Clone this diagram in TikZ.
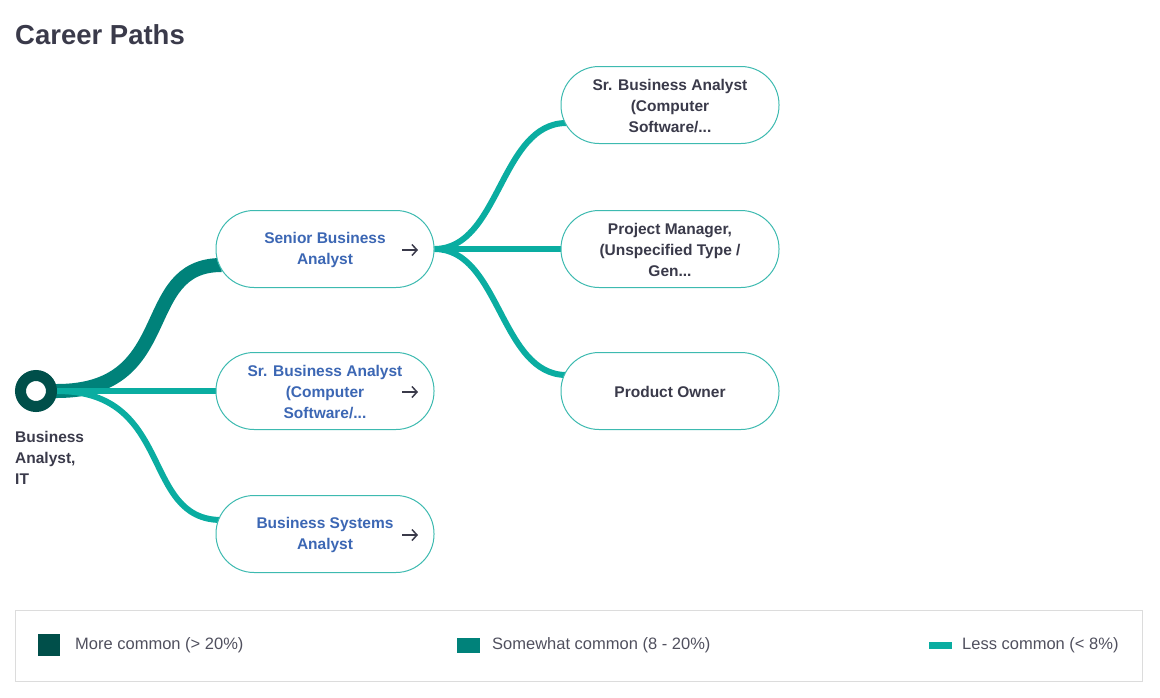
\documentclass[tikz,border=0pt]{standalone}
\usepackage{fontspec}
\setmainfont{Liberation Sans}
\usetikzlibrary{backgrounds,calc,arrows.meta}
\definecolor{morec}{HTML}{004F4A}
\definecolor{somec}{HTML}{00827A}
\definecolor{lessc}{HTML}{0AADA1}
\definecolor{boxc}{HTML}{3DBAB0}
\definecolor{bluet}{HTML}{3C67B4}
\definecolor{darkt}{HTML}{3A3A4A}
\definecolor{legt}{HTML}{50505E}
\definecolor{legb}{HTML}{DCDCDC}
\tikzset{
  pill/.style={draw=boxc, line width=1pt, fill=white, rounded corners=38pt,
    minimum width=218pt, minimum height=77pt, inner sep=0pt},
  linktext/.style={text=bluet, font=\fontsize{15.5}{21}\selectfont\bfseries, align=center},
  plaintext/.style={text=darkt, font=\fontsize{15.5}{21}\selectfont\bfseries, align=center},
  goicon/.style={draw=darkt, line width=1.5pt, -{Straight Barb[length=5pt,width=11pt,line width=1.5pt]}},
  lessline/.style={draw=lessc, line width=6pt},
  someline/.style={draw=somec, line width=14pt},
  legtext/.style={text=legt, font=\fontsize{16.5}{19}\selectfont, anchor=west, inner sep=0pt},
}
\begin{document}
\begin{tikzpicture}[x=1pt,y=-1pt]
\useasboundingbox (0,0) rectangle (1160,697);
% title
\node[anchor=west, inner sep=0pt, text=darkt, font=\fontsize{27.5}{32}\selectfont\bfseries] (title) at (15,35) {Career Paths};
% start
\node[circle, draw=morec, line width=11pt, fill=white, minimum size=31pt, inner sep=0pt] (start) at (36,391) {};
\node[anchor=north west, inner sep=0pt, align=left, text=darkt, font=\fontsize{15.5}{21}\selectfont\bfseries] (startlbl) at (15,431) {Business\\Analyst,\\IT};
% level 1
\node[pill] (sba) at (325,249) {};
\node[linktext] (sbat) at (325,250) {Senior Business\\Analyst};
\coordinate (sbaa) at (410,250);
\node[pill] (srba) at (325,391) {};
\node[linktext] (srbat) at (325,392) {Sr. Business Analyst\\(Computer\\Software/...};
\coordinate (srbaa) at (410,392);
\node[pill] (bsys) at (325,534) {};
\node[linktext] (bsyst) at (325,535) {Business Systems\\Analyst};
\coordinate (bsysa) at (410,535);
\foreach \a in {sbaa,srbaa,bsysa}
  \draw[goicon] ([xshift=-8pt]\a) -- ([xshift=8pt]\a);
% level 2
\node[pill] (t1) at (670,105) {};
\node[plaintext] (t1t) at (670,106) {Sr. Business Analyst\\(Computer\\Software/...};
\node[pill] (t2) at (670,249) {};
\node[plaintext] (t2t) at (670,250) {Project Manager,\\(Unspecified Type /\\Gen...};
\node[pill] (t3) at (670,391) {};
\node[plaintext] (t3t) at (670,392) {Product Owner};
% connectors
\begin{scope}[on background layer]
\draw[someline] (start.center) -- (start.east) .. controls (180,391) and (135,265) .. ([xshift=6pt,yshift=-16pt]sba.west);
\draw[lessline] (start.center) -- (srba.west);
\draw[lessline] (start.center) -- (start.east) .. controls (175,391) and (140,520) .. ([xshift=6pt,yshift=14pt]bsys.west);
\draw[lessline] (sba.east) .. controls (500,249) and (500,123) .. ([xshift=6pt,yshift=-18pt]t1.west);
\draw[lessline] (sba.east) -- (t2.west);
\draw[lessline] (sba.east) .. controls (500,249) and (500,375) .. ([xshift=6pt,yshift=16pt]t3.west);
\end{scope}
% legend
\node[draw=legb, line width=1.2pt, minimum width=1127pt, minimum height=71pt, anchor=north west, inner sep=0pt] (legend) at (15,610) {};
\node[fill=morec, minimum width=22pt, minimum height=22pt, inner sep=0pt] (lk1) at (49,645) {};
\node[legtext] (lt1) at (75,645) {More common (> 20\%)};
\node[fill=somec, minimum width=23pt, minimum height=15pt, inner sep=0pt] (lk2) at (468.5,645.5) {};
\node[legtext] (lt2) at (492,645) {Somewhat common (8 - 20\%)};
\node[fill=lessc, minimum width=23pt, minimum height=7pt, inner sep=0pt] (lk3) at (940.5,645.5) {};
\node[legtext] (lt3) at (962,645) {Less common (< 8\%)};
\end{tikzpicture}
\end{document}
